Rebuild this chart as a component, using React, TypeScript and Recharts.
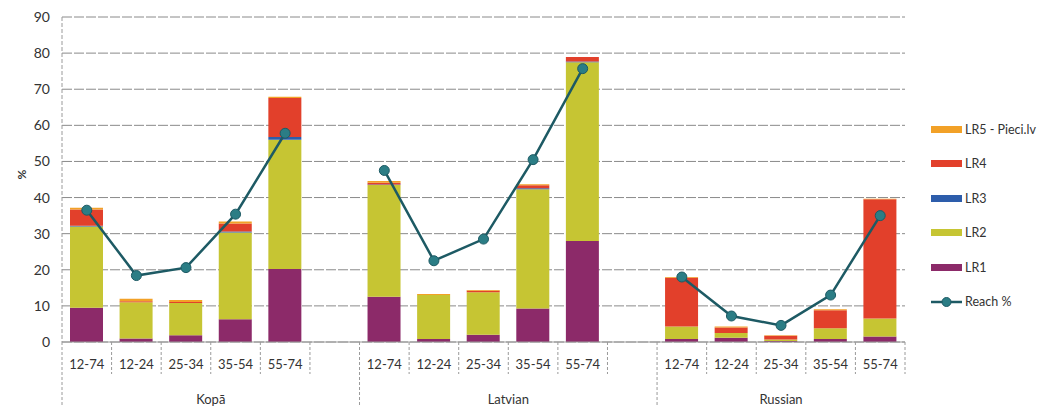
import React from "react";
import {
  ComposedChart,
  Bar,
  Line,
  XAxis,
  YAxis,
  CartesianGrid,
} from "recharts";

// categories (empty slots separate the three groups)
const ages = [
  "12-74", "12-24", "25-34", "35-54", "55-74", "",
  "12-74", "12-24", "25-34", "35-54", "55-74", "",
  "12-74", "12-24", "25-34", "35-54", "55-74",
];
const groups = ["Kopā", "Latvian", "Russian"];
const groupStarts = [0, 6, 12];
const groupSizes = [6, 6, 5];

const lr1 = [9.5, 1, 1.9, 6.3, 20.2, null, 12.5, 0.8, 2, 9.3, 28, null, 0.8, 1.2, 0.3, 0.8, 1.5];
const lr2 = [22.5, 10, 8.9, 24, 35.8, null, 31, 12.2, 11.8, 33, 49.5, null, 3.5, 1.3, 0.4, 3, 5];
const lr3 = [0.2, 0, 0, 0.3, 0.8, null, 0.1, 0, 0, 0.3, 0.2, null, 0, 0, 0, 0, 0];
const lr4 = [4.5, 0.3, 0.3, 2.2, 10.8, null, 0.5, 0, 0.4, 0.8, 1.2, null, 13.5, 1.5, 1.0, 5, 33];
const lr5 = [0.5, 0.7, 0.5, 0.6, 0.3, null, 0.5, 0.3, 0.2, 0.3, 0, null, 0.2, 0.3, 0.2, 0.3, 0.2];
const reach = [36.5, 18.4, 20.6, 35.4, 57.8, null, 47.5, 22.5, 28.5, 50.5, 75.7, null, 18, 7.2, 4.6, 13, 35];

const yTicks = [0, 10, 20, 30, 40, 50, 60, 70, 80, 90];

const data = ages.map((age, i) => ({
  id: i,
  age,
  lr1: lr1[i],
  lr2: lr2[i],
  lr3: lr3[i],
  lr4: lr4[i],
  lr5: lr5[i],
  reach: reach[i],
}));

const COLORS = {
  lr5: "#f2a127",
  lr4: "#e2402b",
  lr3: "#2d5dab",
  lr2: "#c6c533",
  lr1: "#8c2a69",
  reach: "#1d5a64",
};

const W = 1057;
const H = 407;
const LEFT = 62;
const RIGHT = 905;
const TOP = 17;
const AXIS_H = 65;
const BOTTOM = H - AXIS_H;
const SLOT = (RIGHT - LEFT) / ages.length;
const FONT = "Lato, 'Open Sans', sans-serif";

function AgeTick(props: any) {
  const { x, payload } = props;
  const i = payload.index;
  const left = x - SLOT / 2;
  const g = groupStarts.indexOf(i);
  const els: React.ReactNode[] = [];
  els.push(
    <line
      key="sep"
      x1={left}
      x2={left}
      y1={BOTTOM}
      y2={g >= 0 ? H : BOTTOM + 32}
      stroke="#9a9a9a"
      strokeDasharray="3 2"
    />
  );
  if (i === ages.length - 1) {
    els.push(
      <line key="end" x1={x + SLOT / 2} x2={x + SLOT / 2} y1={BOTTOM} y2={BOTTOM + 32} stroke="#9a9a9a" strokeDasharray="3 2" />
    );
  }
  els.push(
    <text key="t" x={x} y={BOTTOM + 27} textAnchor="middle" fontSize={13} fill="#333" fontFamily={FONT}>
      {ages[i]}
    </text>
  );
  groupStarts.forEach((s, gi) => {
    const mid = s + (groupSizes[gi] - 1) / 2;
    if (Math.abs(mid - i) < 0.01 || Math.abs(mid - 0.5 - i) < 0.01) {
      const cx = left + SLOT / 2 + (mid - i) * SLOT;
      els.push(
        <text key={"g" + gi} x={cx} y={BOTTOM + 62} textAnchor="middle" fontSize={13} fill="#333" fontFamily={FONT}>
          {groups[gi]}
        </text>
      );
    }
  });
  return <g>{els}</g>;
}

const legendItems = [
  { name: "LR5 - Pieci.lv", color: COLORS.lr5 },
  { name: "LR4", color: COLORS.lr4 },
  { name: "LR3", color: COLORS.lr3 },
  { name: "LR2", color: COLORS.lr2 },
  { name: "LR1", color: COLORS.lr1 },
];

function ChartLegend() {
  return (
    <div style={{ position: "absolute", left: 931, top: 112, fontFamily: FONT, fontSize: 12.5, color: "#333" }}>
      {legendItems.map((it) => (
        <div key={it.name} style={{ display: "flex", alignItems: "center", height: 34.5 }}>
          <span style={{ display: "inline-block", width: 31, height: 7, background: it.color, marginRight: 3 }} />
          {it.name}
        </div>
      ))}
      <div style={{ display: "flex", alignItems: "center", height: 34.5 }}>
        <svg width={31} height={12} style={{ marginRight: 3 }}>
          <line x1={0} x2={31} y1={6} y2={6} stroke={COLORS.reach} strokeWidth={2.5} />
          <circle cx={15.5} cy={6} r={4.5} fill="#2b7d85" stroke={COLORS.reach} />
        </svg>
        Reach %
      </div>
    </div>
  );
}

export default function App() {
  return (
    <div style={{ position: "absolute", left: 0, top: 0, width: W, height: H, background: "#fff" }}>
      <ComposedChart
        width={W}
        height={H}
        data={data}
        margin={{ top: TOP, right: W - RIGHT, bottom: 0, left: 0 }}
      >
        <CartesianGrid vertical={false} stroke="#8a8a8a" strokeDasharray="10 2" />
        <XAxis
          dataKey="id"
          height={AXIS_H}
          interval={0}
          tickLine={false}
          axisLine={{ stroke: "#9a9a9a" }}
          tick={<AgeTick />}
        />
        <YAxis
          width={LEFT}
          domain={[0, 90]}
          ticks={yTicks}
          interval={0}
          tickLine={false}
          tickMargin={6}
          axisLine={{ stroke: "#9a9a9a", strokeDasharray: "4 2" }}
          tick={{ fontSize: 14, fill: "#333", fontFamily: FONT }}
          label={{ value: "%", angle: -90, position: "insideLeft", offset: 22, style: { fontSize: 12, fontWeight: "bold", fill: "#333", fontFamily: FONT } }}
        />
        <Bar dataKey="lr1" stackId="a" fill={COLORS.lr1} barSize={33} isAnimationActive={false} />
        <Bar dataKey="lr2" stackId="a" fill={COLORS.lr2} barSize={33} isAnimationActive={false} />
        <Bar dataKey="lr3" stackId="a" fill={COLORS.lr3} barSize={33} isAnimationActive={false} />
        <Bar dataKey="lr4" stackId="a" fill={COLORS.lr4} barSize={33} isAnimationActive={false} />
        <Bar dataKey="lr5" stackId="a" fill={COLORS.lr5} barSize={33} isAnimationActive={false} />
        <Line
          dataKey="reach"
          stroke={COLORS.reach}
          strokeWidth={2.5}
          connectNulls={false}
          dot={{ r: 5, fill: "#2b7d85", stroke: COLORS.reach, strokeWidth: 1 }}
          isAnimationActive={false}
        />
      </ComposedChart>
      <ChartLegend />
    </div>
  );
}
